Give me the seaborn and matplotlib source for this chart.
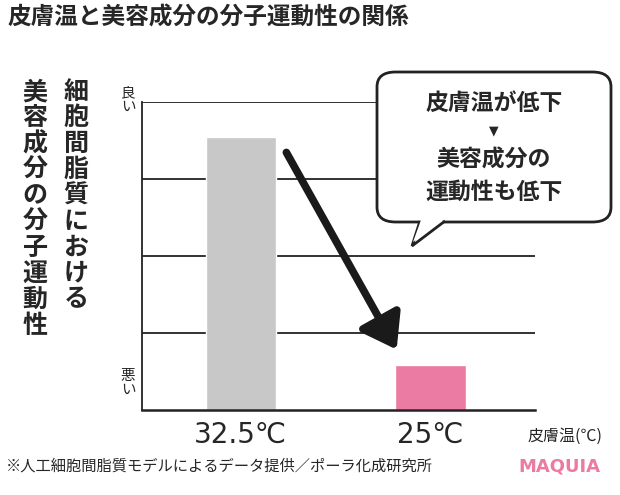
import matplotlib
matplotlib.use("Agg")
import matplotlib.pyplot as plt
import seaborn as sns
import pandas as pd
from matplotlib.patches import FancyBboxPatch, Polygon, FancyArrowPatch

categories = ["32.5℃", "25℃"]
values = [3.55, 0.58]
colors = ["#c8c8c8", "#ec7ba3"]

sns.set_style("white")
plt.rcParams['font.family'] = ['Noto Sans CJK JP', 'DejaVu Sans']

W, H = 620, 495
fig = plt.figure(figsize=(6.2, 4.95), dpi=100)
def fx(x): return x / W
def fy(y): return 1 - y / H

ax = fig.add_axes([fx(142), fy(410), fx(535) - fx(142), fy(102) - fy(410)])
df = pd.DataFrame({"cat": categories, "val": values})
sns.barplot(data=df, x="cat", y="val", hue="cat", palette=colors, ax=ax, width=0.37,
            legend=False, saturation=1)
ax.set_xlim(-0.52, 1.55)
ax.set_ylim(0, 4)
for v in [1, 2, 3, 4]:
    ax.axhline(v, color="#222", lw=1.3, zorder=0)
for s in ["top", "right"]:
    ax.spines[s].set_visible(False)
ax.spines["left"].set_color("#222"); ax.spines["left"].set_linewidth(1.3)
ax.spines["bottom"].set_color("#222"); ax.spines["bottom"].set_linewidth(1.8)
ax.set_yticks([])
ax.set_xlabel(""); ax.set_ylabel("")
ax.tick_params(axis="x", length=0, labelsize=20, pad=8)
for t in ax.get_xticklabels():
    t.set_fontfamily(['DejaVu Sans'])

fig.text(fx(8), fy(18), "皮膚温と美容成分の分子運動性の関係", fontsize=17, fontweight="bold", va="center", ha="left")
fig.text(fx(76), fy(80), "\n".join("細胞間脂質における"), fontsize=18, fontweight="bold", va="top", ha="center", linespacing=1.1)
fig.text(fx(35), fy(80), "\n".join("美容成分の分子運動性"), fontsize=18, fontweight="bold", va="top", ha="center", linespacing=1.1)
fig.text(fx(128), fy(100), "良\nい", fontsize=10.5, va="center", ha="center", linespacing=1.0)
fig.text(fx(128), fy(383), "悪\nい", fontsize=10.5, va="center", ha="center", linespacing=1.0)

bub = FancyBboxPatch((fx(377), fy(222)), fx(611) - fx(377), fy(72) - fy(222),
                     boxstyle="round,pad=0,rounding_size=0.03", transform=fig.transFigure,
                     fc="white", ec="#222", lw=2, zorder=5)
fig.patches.append(bub)
tail = Polygon([(fx(420), fy(221)), (fx(412), fy(246)), (fx(445), fy(221))], closed=False,
               transform=fig.transFigure, fc="white", ec="#222", lw=2, zorder=6)
fig.patches.append(tail)
cover = Polygon([(fx(421), fy(220)), (fx(413), fy(242)), (fx(443), fy(220))], closed=True,
                transform=fig.transFigure, fc="white", ec="none", zorder=7)
fig.patches.append(cover)
fig.text(fx(494), fy(103), "皮膚温が低下", fontsize=16.5, fontweight="bold", ha="center", va="center", zorder=8)
fig.text(fx(494), fy(131), "▼", fontsize=9, ha="center", va="center", family=['DejaVu Sans'], zorder=8)
fig.text(fx(494), fy(160), "美容成分の", fontsize=16.5, fontweight="bold", ha="center", va="center", zorder=8)
fig.text(fx(494), fy(192), "運動性も低下", fontsize=16.5, fontweight="bold", ha="center", va="center", zorder=8)

arr = FancyArrowPatch((fx(285), fy(150)), (fx(398), fy(352)), transform=fig.transFigure,
                      arrowstyle="-|>,head_length=10,head_width=7", lw=5.5, color="#1a1a1a", mutation_scale=2)
fig.patches.append(arr)

fig.text(fx(565), fy(436), "皮膚温(℃)", fontsize=11.5, ha="center", va="center")
fig.text(fx(6), fy(466), "※人工細胞間脂質モデルによるデータ提供／ポーラ化成研究所", fontsize=11, ha="left", va="center")
fig.text(fx(600), fy(466), "MAQUIA", fontsize=13, fontweight="bold", color="#ec7ba3", ha="right", va="center", family=['DejaVu Sans'])

fig.savefig("out.png", dpi=100)
